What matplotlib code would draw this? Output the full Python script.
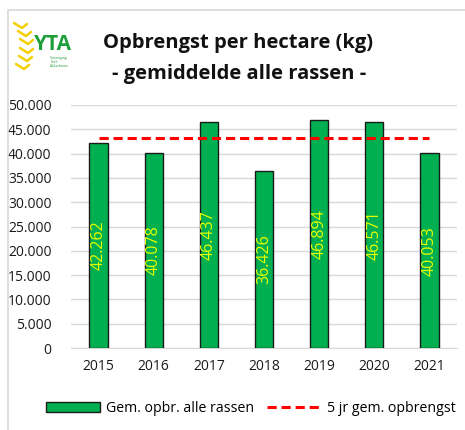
import matplotlib
matplotlib.use("Agg")
import matplotlib.pyplot as plt
from matplotlib.patches import Rectangle, Patch
from matplotlib.lines import Line2D
from matplotlib.ticker import FuncFormatter, MultipleLocator

years = ["2015", "2016", "2017", "2018", "2019", "2020", "2021"]
yields = [42262, 40078, 46437, 36426, 46894, 46571, 40053]
avg5 = [43300] * 7
bar_labels = ["42.262", "40.078", "46.437", "36.426", "46.894", "46.571", "40.053"]

plt.rcParams['font.family'] = ['Open Sans', 'DejaVu Sans']

W, H = 465, 430
fig = plt.figure(figsize=(W / 100, H / 100), dpi=100)
fig.patch.set_facecolor("white")


def fx(px):
    return px / W


def fy(py):
    return 1 - py / H


# outer frame
fig.add_artist(Rectangle((fx(8), -0.1), 1.2, fy(10) + 0.1, transform=fig.transFigure,
                         fill=False, edgecolor="#D9D9D9", linewidth=1.2))

ax = fig.add_axes([fx(71), fy(348), (457 - 71) / W, (348 - 105) / H])
x = list(range(len(years)))
ax.bar(x, yields, width=0.33, color="#00B050", edgecolor="#1a1a1a", linewidth=1.0, zorder=3)
ax.plot(x, avg5, color="#FF0000", linestyle=(0, (3, 1.6)), linewidth=2.2, zorder=4)

for xi, v, lab in zip(x, yields, bar_labels):
    ax.text(xi, v / 2, lab, rotation=90, ha="center", va="center", color="#E6FF00",
            fontsize=11.5, zorder=5)

ax.set_xlim(-0.5, 6.5)
ax.set_ylim(0, 50000)
ax.yaxis.set_major_locator(MultipleLocator(5000))
ax.yaxis.set_major_formatter(FuncFormatter(lambda v, p: f"{int(v):,}".replace(",", ".")))
ax.set_xticks(x)
ax.set_xticklabels(years)
ax.grid(axis="y", color="#D9D9D9", linewidth=1, zorder=0)
for s in ["top", "right", "left"]:
    ax.spines[s].set_visible(False)
ax.spines["bottom"].set_color("#D9D9D9")
ax.tick_params(axis="both", length=0, labelsize=10, colors="#1a1a1a")
ax.tick_params(axis="y", pad=14)
ax.tick_params(axis="x", pad=8)

# title
fig.text(fx(238), fy(43), "Opbrengst per hectare (kg)", ha="center", va="center",
         fontsize=14.5, fontweight="bold", color="#111111")
fig.text(fx(239), fy(74), "- gemiddelde alle rassen -", ha="center", va="center",
         fontsize=14.5, fontweight="bold", color="#111111")

# logo: yellow wheat chevrons + green text
stem = [(22, 26), (26, 34), (28, 42), (28, 51), (27, 59), (24, 67)]
for cx, cy in stem:
    fig.add_artist(Line2D([fx(cx - 8), fx(cx), fx(cx + 5)], [fy(cy - 3), fy(cy + 2), fy(cy - 2)],
                          transform=fig.transFigure, color="#F5D000", linewidth=1.8,
                          solid_capstyle="round"))
fig.text(fx(53), fy(45), "YTA", ha="center", va="center", fontsize=15,
         fontweight="bold", color="#1E9E3A")
fig.text(fx(50), fy(62), "Vereniging\nTeelt\nAkkerbouw", ha="left", va="center", fontsize=2.4,
         color="#1E9E3A", linespacing=1.1)

# legend
handles = [Patch(facecolor="#00B050", edgecolor="#1a1a1a", linewidth=1.0),
           Line2D([0], [0], color="#FF0000", linestyle=(0, (3, 1.6)), linewidth=2.2)]
fig.legend(handles, ["Gem. opbr. alle rassen", "5 jr gem. opbrengst"], loc="center",
           bbox_to_anchor=(fx(251), fy(408)), ncol=2, frameon=False, fontsize=10.2,
           handlelength=3.8, handleheight=0.7, columnspacing=0.9, handletextpad=0.45)

fig.savefig("out.png", dpi=100)
